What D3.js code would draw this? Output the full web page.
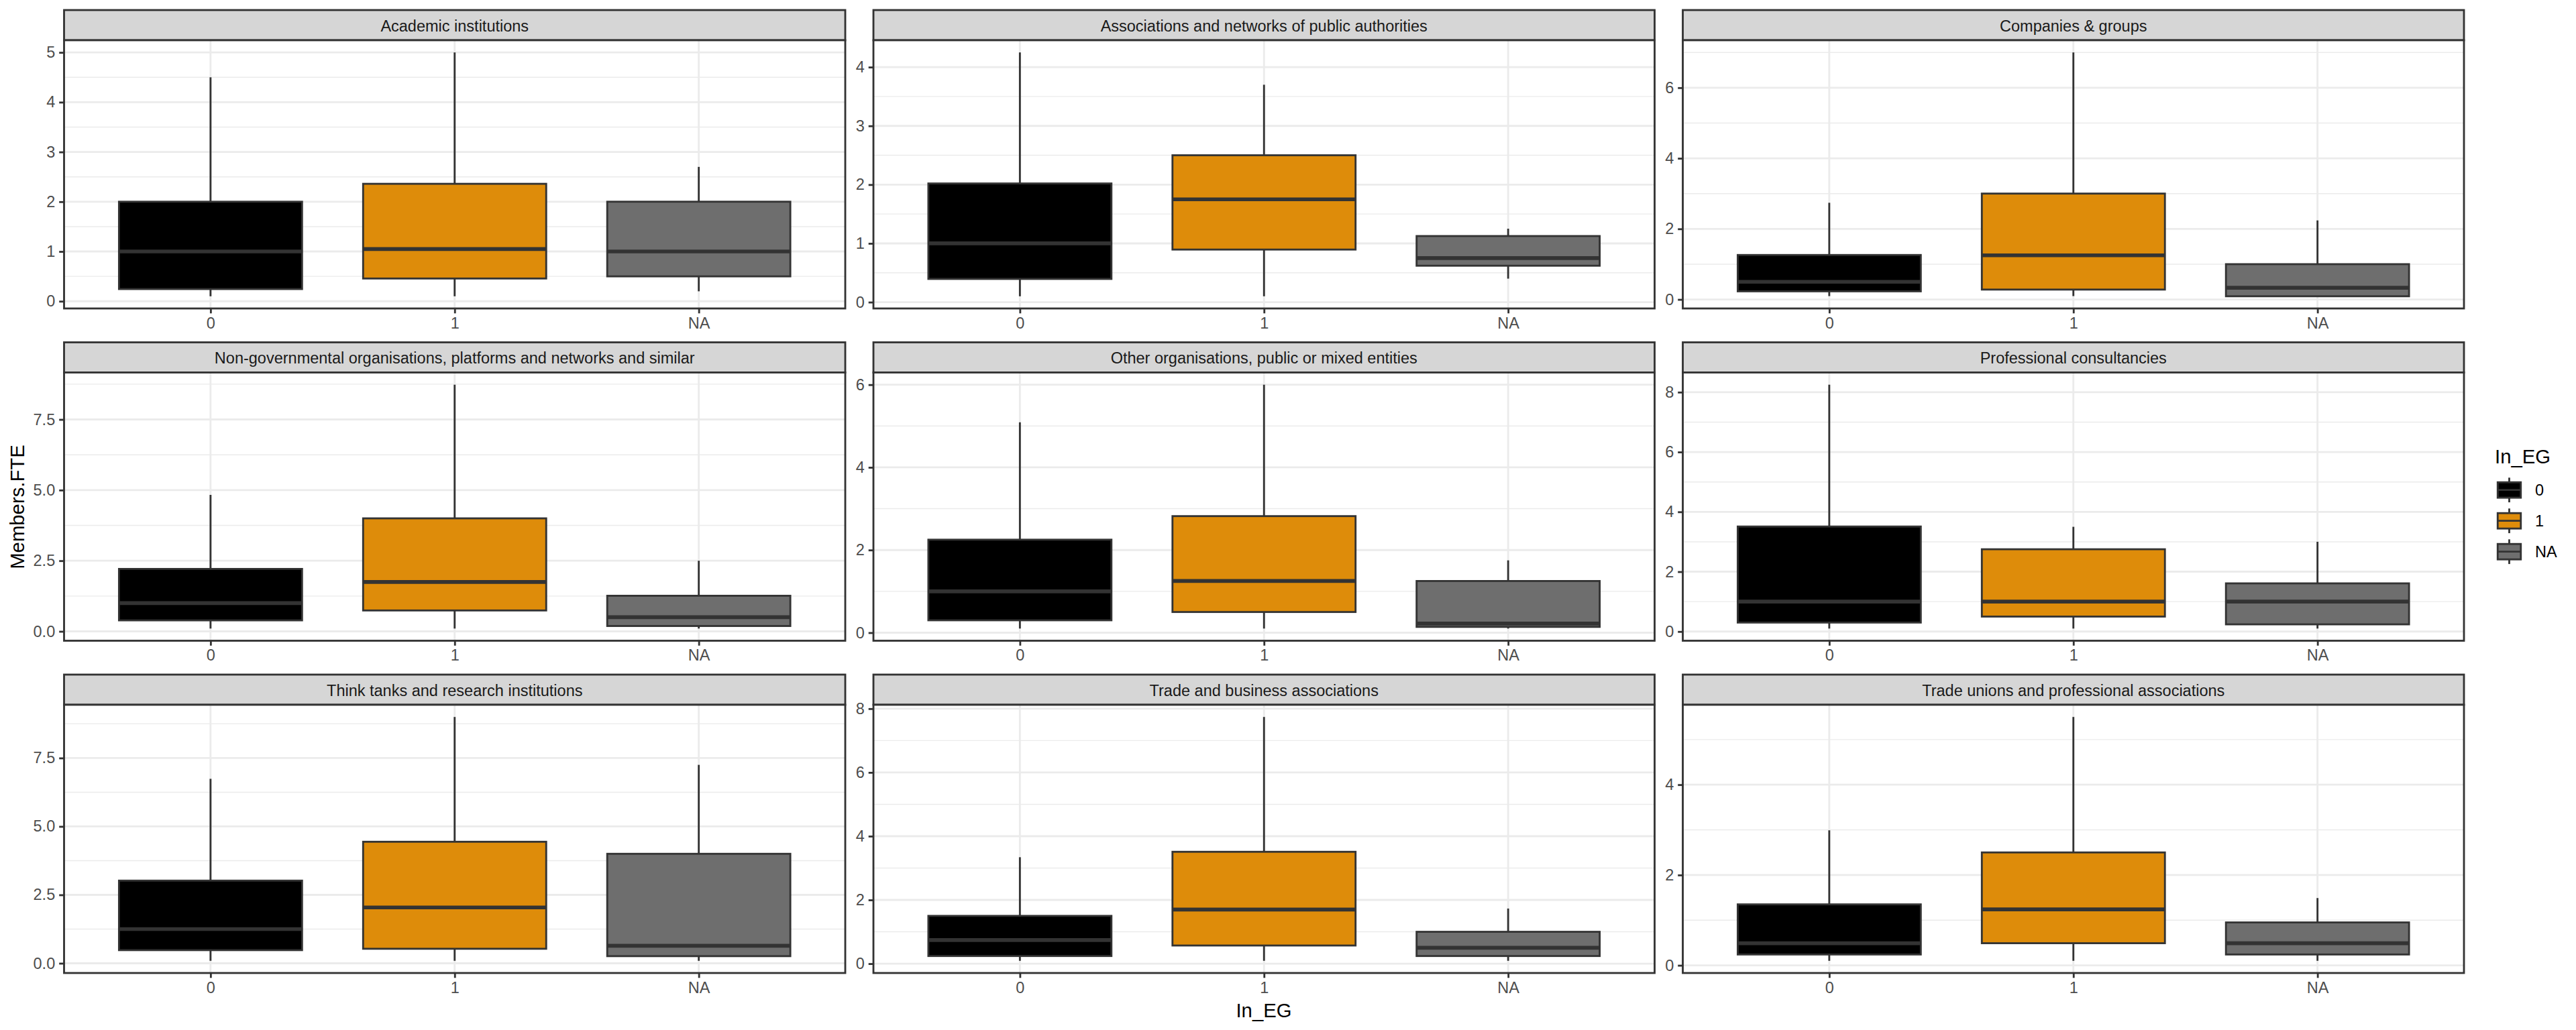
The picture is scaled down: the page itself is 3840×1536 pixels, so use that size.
<!DOCTYPE html>
<html><head><meta charset="utf-8">
<script src="https://cdn.jsdelivr.net/npm/d3@7"></script>
<style>
body{margin:0;background:#fff}
svg{display:block}
text{font-family:"Liberation Sans",Arial,Helvetica,sans-serif}
</style>
</head><body>
<svg id="c" width="3840" height="1536"></svg>
<script>
// ---------------- DATA ----------------
const facets = [
  "Academic institutions",
  "Associations and networks of public authorities",
  "Companies & groups",
  "Non-governmental organisations, platforms and networks and similar",
  "Other organisations, public or mixed entities",
  "Professional consultancies",
  "Think tanks and research institutions",
  "Trade and business associations",
  "Trade unions and professional associations"
];
const groups = ["0", "1", "NA"];
// per facet: [group 0, group 1, group NA]
const whiskerLow = [
  [0.10, 0.10, 0.20],
  [0.10, 0.10, 0.40],
  [0.095, 0.095, 0.09],
  [0.10, 0.10, 0.10],
  [0.10, 0.10, 0.10],
  [0.10, 0.10, 0.10],
  [0.09, 0.09, 0.09],
  [0.09, 0.09, 0.09],
  [0.10, 0.10, 0.10]
];
const q1 = [
  [0.245, 0.457, 0.50],
  [0.395, 0.895, 0.62],
  [0.23, 0.28, 0.09],
  [0.39, 0.74, 0.19],
  [0.30, 0.50, 0.14],
  [0.30, 0.50, 0.24],
  [0.48, 0.53, 0.26],
  [0.24, 0.57, 0.24],
  [0.24, 0.49, 0.24]
];
const medians = [
  [1.00, 1.05, 1.00],
  [1.00, 1.75, 0.75],
  [0.50, 1.25, 0.33],
  [1.00, 1.75, 0.50],
  [1.00, 1.25, 0.22],
  [1.00, 1.00, 1.00],
  [1.25, 2.04, 0.64],
  [0.74, 1.70, 0.50],
  [0.49, 1.24, 0.49]
];
const q3 = [
  [2.00, 2.36, 2.00],
  [2.02, 2.50, 1.125],
  [1.26, 3.00, 1.00],
  [2.21, 4.00, 1.26],
  [2.25, 2.82, 1.25],
  [3.51, 2.75, 1.61],
  [3.02, 4.44, 4.00],
  [1.50, 3.51, 1.00],
  [1.35, 2.50, 0.95]
];
const whiskerHigh = [
  [4.50, 5.00, 2.70],
  [4.25, 3.70, 1.25],
  [2.74, 7.00, 2.24],
  [4.83, 8.73, 2.50],
  [5.09, 6.00, 1.75],
  [8.25, 3.50, 3.00],
  [6.74, 9.00, 7.25],
  [3.34, 7.74, 1.73],
  [2.99, 5.50, 1.49]
];
const yTickLabels = [
  ["0", "1", "2", "3", "4", "5"],
  ["0", "1", "2", "3", "4"],
  ["0", "2", "4", "6"],
  ["0.0", "2.5", "5.0", "7.5"],
  ["0", "2", "4", "6"],
  ["0", "2", "4", "6", "8"],
  ["0.0", "2.5", "5.0", "7.5"],
  ["0", "2", "4", "6", "8"],
  ["0", "2", "4"]
];
const xTitle = "In_EG";
const yTitle = "Members.FTE";
const legendTitle = "In_EG";
const palette = ["#000000", "#DE8C0A", "#6E6E6E"];

// ---------------- LAYOUT ----------------
const svg = d3.select("#c");
svg.append("rect").attr("width", 3840).attr("height", 1536).attr("fill", "#ffffff");

const colLeft = [95.5, 1302, 2508.5];
const panelW = 1164.5;
const rowTop = [15, 510.5, 1006];
const stripH = 45;
const panelH = 400;
const lw = 2.84;
const dark = "#333333";
const gridCol = "#EBEBEB";
const tickFont = 23.5;

facets.forEach((name, i) => {
  const c = i % 3, r = Math.floor(i / 3);
  const g = svg.append("g").attr("transform", `translate(${colLeft[c]},${rowTop[r]})`);

  // strip
  g.append("rect").attr("x", 0).attr("y", 0).attr("width", panelW).attr("height", stripH)
    .attr("fill", "#D6D6D6").attr("stroke", dark).attr("stroke-width", lw);
  g.append("text").attr("x", panelW / 2).attr("y", stripH / 2 + 1)
    .attr("text-anchor", "middle").attr("dominant-baseline", "central")
    .attr("font-size", tickFont).attr("fill", "#1A1A1A").text(name);

  const p = g.append("g").attr("transform", `translate(0,${stripH})`);

  const lo = d3.min(whiskerLow[i]), hi = d3.max(whiskerHigh[i]);
  const pad = 0.05 * (hi - lo);
  const y = d3.scaleLinear().domain([lo - pad, hi + pad]).range([panelH, 0]);
  const x = d3.scalePoint().domain(groups).range([0, panelW]).padding(0.6);
  const bw = x.step() * 0.75;

  const majors = yTickLabels[i].map(Number);
  const step = majors[1] - majors[0];
  const minors = [];
  for (let k = -1; k < majors.length; k++) {
    const v = majors[0] + (k + 0.5) * step;
    if (v >= y.domain()[0] && v <= y.domain()[1]) minors.push(v);
  }

  p.append("rect").attr("width", panelW).attr("height", panelH).attr("fill", "#fff");

  p.selectAll(".minor").data(minors).enter().append("line")
    .attr("x1", 0).attr("x2", panelW).attr("y1", d => y(d)).attr("y2", d => y(d))
    .attr("stroke", gridCol).attr("stroke-width", lw / 2);
  p.selectAll(".major").data(majors).enter().append("line")
    .attr("x1", 0).attr("x2", panelW).attr("y1", d => y(d)).attr("y2", d => y(d))
    .attr("stroke", gridCol).attr("stroke-width", lw);
  p.selectAll(".vgrid").data(groups).enter().append("line")
    .attr("x1", d => x(d)).attr("x2", d => x(d)).attr("y1", 0).attr("y2", panelH)
    .attr("stroke", gridCol).attr("stroke-width", lw);

  groups.forEach((gr, j) => {
    const cx = x(gr);
    p.append("line").attr("x1", cx).attr("x2", cx)
      .attr("y1", y(whiskerHigh[i][j])).attr("y2", y(q3[i][j]))
      .attr("stroke", dark).attr("stroke-width", lw);
    p.append("line").attr("x1", cx).attr("x2", cx)
      .attr("y1", y(q1[i][j])).attr("y2", y(whiskerLow[i][j]))
      .attr("stroke", dark).attr("stroke-width", lw);
    p.append("rect").attr("x", cx - bw / 2).attr("y", y(q3[i][j]))
      .attr("width", bw).attr("height", y(q1[i][j]) - y(q3[i][j]))
      .attr("fill", palette[j]).attr("stroke", dark).attr("stroke-width", lw);
    p.append("line").attr("x1", cx - bw / 2).attr("x2", cx + bw / 2)
      .attr("y1", y(medians[i][j])).attr("y2", y(medians[i][j]))
      .attr("stroke", dark).attr("stroke-width", lw * 2);
  });

  p.append("rect").attr("width", panelW).attr("height", panelH)
    .attr("fill", "none").attr("stroke", dark).attr("stroke-width", lw);

  const ya = p.append("g").call(
    d3.axisLeft(y).tickValues(majors).tickSize(7.3).tickPadding(6)
      .tickFormat((d, k) => yTickLabels[i][k]));
  const xa = p.append("g").attr("transform", `translate(0,${panelH})`).call(
    d3.axisBottom(x).tickSize(7.3).tickPadding(6));
  [ya, xa].forEach(a => {
    a.select(".domain").remove();
    a.selectAll(".tick line").attr("stroke", dark).attr("stroke-width", lw);
    a.selectAll(".tick text").attr("fill", "#4D4D4D").attr("font-size", tickFont)
      .attr("font-family", '"Liberation Sans",Arial,sans-serif');
  });
});

// axis titles
svg.append("text").attr("x", 1884).attr("y", 1506).attr("text-anchor", "middle")
  .attr("dominant-baseline", "central").attr("font-size", 29.3).attr("fill", "#000").text(xTitle);
svg.append("text").attr("transform", "translate(25,756) rotate(-90)").attr("text-anchor", "middle")
  .attr("dominant-baseline", "central").attr("font-size", 29.3).attr("fill", "#000").text(yTitle);

// legend
const lg = svg.append("g");
lg.append("text").attr("x", 3719).attr("y", 680).attr("dominant-baseline", "central")
  .attr("font-size", 29.3).attr("fill", "#000").text(legendTitle);
const keyS = 46, keyX = 3717.5;
groups.forEach((gr, j) => {
  const cy = 730.7 + j * 46;
  const top = cy - keyS / 2;
  const k = lg.append("g").attr("transform", `translate(${keyX},${top})`);
  k.append("line").attr("x1", keyS / 2).attr("x2", keyS / 2).attr("y1", keyS * 0.1).attr("y2", keyS * 0.25)
    .attr("stroke", dark).attr("stroke-width", lw);
  k.append("line").attr("x1", keyS / 2).attr("x2", keyS / 2).attr("y1", keyS * 0.75).attr("y2", keyS * 0.9)
    .attr("stroke", dark).attr("stroke-width", lw);
  k.append("rect").attr("x", keyS * 0.125).attr("y", keyS * 0.25).attr("width", keyS * 0.75).attr("height", keyS * 0.5)
    .attr("fill", palette[j]).attr("stroke", dark).attr("stroke-width", lw);
  k.append("line").attr("x1", keyS * 0.125).attr("x2", keyS * 0.875).attr("y1", keyS / 2).attr("y2", keyS / 2)
    .attr("stroke", dark).attr("stroke-width", lw);
  lg.append("text").attr("x", 3779).attr("y", cy).attr("dominant-baseline", "central")
    .attr("font-size", tickFont).attr("fill", "#000").text(gr);
});
</script>
</body></html>
